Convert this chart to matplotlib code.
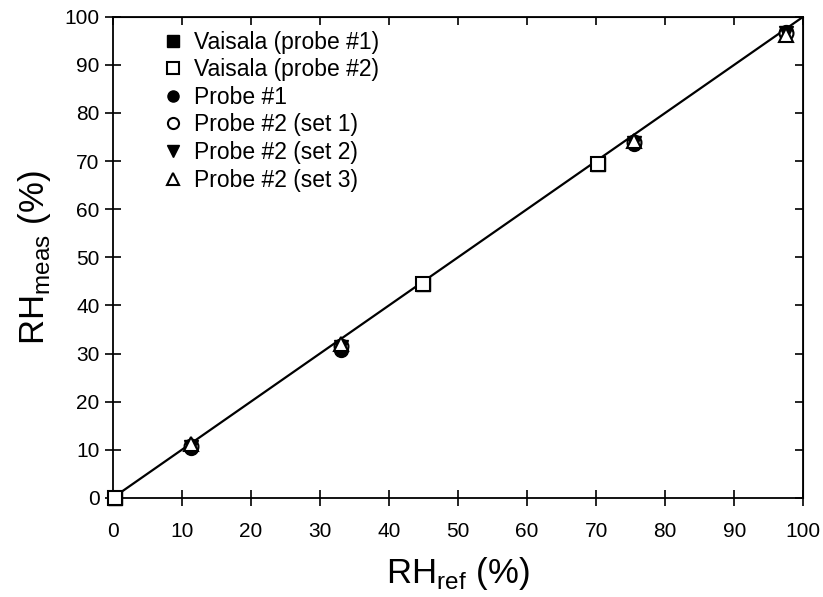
import matplotlib
matplotlib.use("Agg")
import matplotlib.pyplot as plt

plt.rcParams['font.family'] = ['Liberation Sans', 'DejaVu Sans']
plt.rcParams['mathtext.fontset'] = 'custom'
plt.rcParams['mathtext.rm'] = 'Liberation Sans'

# reference line y = x
line_x = [0, 100]
line_y = [0, 100]

# Vaisala readings
vais1_x = [0.3, 45.0, 70.3]
vais1_y = [0.0, 44.4, 69.4]
vais2_x = [0.3, 45.0, 70.3]
vais2_y = [0.0, 44.4, 69.4]

# probe readings
probe1_x = [11.3, 33.0, 75.5, 97.5]
probe1_y = [10.3, 30.8, 73.5, 96.8]
set1_x = [11.3, 33.0, 75.5, 97.5]
set1_y = [10.8, 31.6, 73.9, 96.6]
set2_x = [11.3, 33.0, 75.5, 97.5]
set2_y = [10.6, 31.4, 73.8, 96.7]
set3_x = [11.3, 33.0, 75.5, 97.5]
set3_y = [11.2, 32.0, 74.2, 96.3]

ticks = list(range(0, 101, 10))

fig = plt.figure(figsize=(8.23, 5.97), dpi=100)
ax = fig.add_axes([0.137, 0.166, 0.839, 0.806])

ax.plot(line_x, line_y, color='black', lw=1.6, zorder=1)

ms = 10
kw = dict(ls='none', ms=ms, clip_on=False)
ax.plot(vais1_x, vais1_y, 's', color='black', label='Vaisala (probe #1)', zorder=2, **kw)
ax.plot(vais2_x, vais2_y, 's', mfc='white', mec='black', mew=1.5, label='Vaisala (probe #2)', zorder=3, **kw)
ax.plot(probe1_x, probe1_y, 'o', color='black', label='Probe #1', zorder=2, **kw)
ax.plot(set1_x, set1_y, 'o', mfc='white', mec='black', mew=1.5, label='Probe #2 (set 1)', zorder=3, **kw)
ax.plot(set2_x, set2_y, 'v', color='black', label='Probe #2 (set 2)', zorder=3, **kw)
ax.plot(set3_x, set3_y, '^', mfc='white', mec='black', mew=1.5, label='Probe #2 (set 3)', zorder=4, **kw)

ax.set_xlim(0, 100)
ax.set_ylim(0, 100)
ax.set_xticks(ticks)
ax.set_yticks(ticks)
ax.tick_params(direction='inout', length=11, width=1.2, labelsize=15)
ax.tick_params(axis='x', pad=12)
ax.tick_params(axis='y', pad=4)
for sp in ax.spines.values():
    sp.set_linewidth(1.3)

# inward ticks on top and right
top = ax.secondary_xaxis('top')
top.set_xticks(ticks)
top.tick_params(direction='in', length=6, width=1.2, labeltop=False)
right = ax.secondary_yaxis('right')
right.set_yticks(ticks)
right.tick_params(direction='in', length=6, width=1.2, labelright=False)

ax.set_xlabel(r'RH$_{\mathrm{ref}}$ (%)', fontsize=25, labelpad=10)
ax.set_ylabel(r'RH$_{\mathrm{meas}}$ (%)', fontsize=25, labelpad=8)

leg = ax.legend(loc='upper left', bbox_to_anchor=(0.064, 0.99), frameon=False,
                fontsize=16.5, markerscale=0.8, handlelength=0.6, handletextpad=0.6,
                labelspacing=0.2, borderaxespad=0)

fig.savefig('out.png', dpi=100)
